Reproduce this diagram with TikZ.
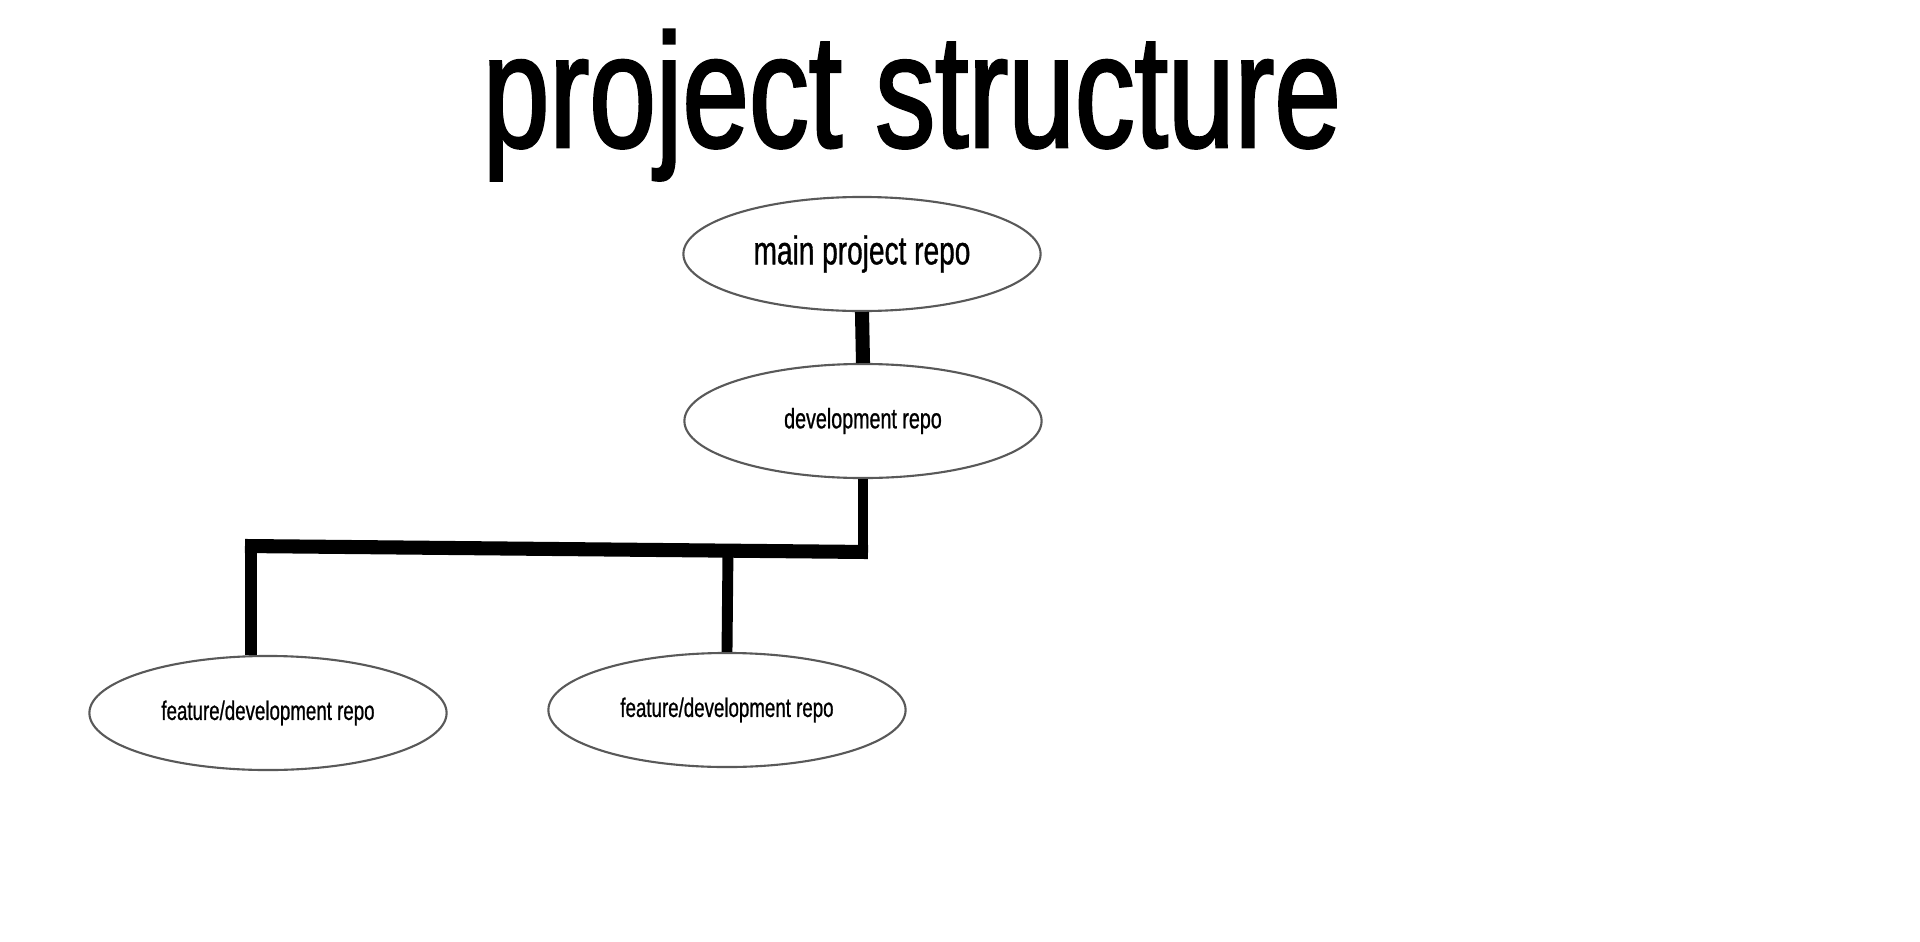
\documentclass[tikz,border=0pt]{standalone}
\usepackage{fontspec}
\setmainfont{Liberation Sans}[FakeStretch=0.7,FakeBold=0.8]
\newfontfamily\titlefont{Liberation Sans}[FakeStretch=0.74,FakeBold=1.6]
\usetikzlibrary{shapes.geometric}
\begin{document}
\begin{tikzpicture}[x=0.01cm,y=-0.01cm,
  repo/.style={ellipse,draw=black!65,line width=0.6pt,minimum width=3.57cm,minimum height=1.14cm,inner sep=0pt},
  link/.style={line width=#1},
  link/.default=3pt]
\useasboundingbox (0,0) rectangle (1920,942);
% title
\node[anchor=base,font=\titlefont\fontsize{46}{50}\selectfont] (title) at (912,147) {project structure};
% repos
\node[repo,font=\fontsize{11.4}{13}\selectfont] (main) at (862,254) {main project repo};
\node[repo,font=\fontsize{8}{10}\selectfont] (dev) at (863,421) {development repo};
\node[repo,font=\fontsize{7.6}{9}\selectfont] (featA) at (268,713) {feature/development repo};
\node[repo,font=\fontsize{7.6}{9}\selectfont] (featB) at (727,710) {feature/development repo};
% branch points
\coordinate (barL) at (245,546);
\coordinate (barR) at (868,552);
\coordinate (barM) at (728,550);
% main to dev
\draw[link=4pt] (main.south) -- (dev.north);
% dev to features
\draw[link=2.85pt] (dev.south) -- (dev.south |- barR);
\draw[link=4pt] (barL) -- (barR);
\draw[link=3.4pt] ([yshift=0.07cm]barL -| featA.106) -- (featA.106);
\draw[link=3.1pt] (barM) -- (featB.north);
\end{tikzpicture}
\end{document}
